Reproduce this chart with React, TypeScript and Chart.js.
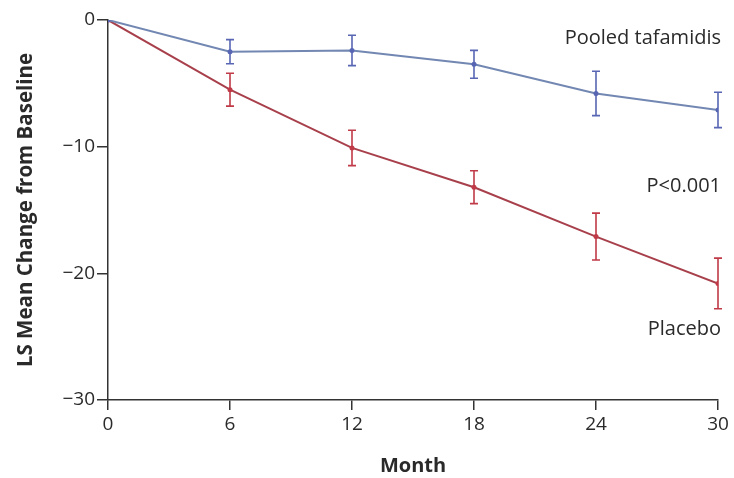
import React, { useEffect, useRef } from "react";
import { Chart, registerables } from "chart.js";

Chart.register(...registerables);

const months = [0, 6, 12, 18, 24, 30];
const tafamidis = [0, -2.5, -2.4, -3.5, -5.8, -7.1];
const tafamidisErr = [0, 0.95, 1.2, 1.1, 1.75, 1.4];
const placebo = [0, -5.5, -10.1, -13.2, -17.1, -20.8];
const placeboErr = [0, 1.3, 1.4, 1.3, 1.85, 2.0];
const xTicks = [0, 6, 12, 18, 24, 30];
const yTicks = [0, -10, -20, -30];

const labels = [
  { text: "Pooled tafamidis", x: 30, y: -1.45 },
  { text: "P<0.001", x: 30, y: -13.1 },
  { text: "Placebo", x: 30, y: -24.4 },
];

const FONT = "'Open Sans', 'Noto Sans', sans-serif";
const BLUE_LINE = "#7287b2";
const BLUE_ERR = "#5866b4";
const RED_LINE = "#a8404c";
const RED_ERR = "#c03a48";
const TEXT = "#2a2a2a";

const errorBarPlugin = {
  id: "errorBars",
  afterDatasetsDraw(chart: any) {
    const { ctx, scales } = chart;
    const xs = scales.x;
    const ys = scales.y;
    const sets = [
      { vals: tafamidis, errs: tafamidisErr, color: BLUE_ERR },
      { vals: placebo, errs: placeboErr, color: RED_ERR },
    ];
    ctx.save();
    ctx.lineWidth = 1.6;
    sets.forEach((s) => {
      ctx.strokeStyle = s.color;
      months.forEach((m, i) => {
        if (!s.errs[i]) return;
        const px = xs.getPixelForValue(m);
        const top = ys.getPixelForValue(s.vals[i] + s.errs[i]);
        const bot = ys.getPixelForValue(s.vals[i] - s.errs[i]);
        ctx.beginPath();
        ctx.moveTo(px, top);
        ctx.lineTo(px, bot);
        ctx.moveTo(px - 4, top);
        ctx.lineTo(px + 4, top);
        ctx.moveTo(px - 4, bot);
        ctx.lineTo(px + 4, bot);
        ctx.stroke();
      });
    });
    ctx.restore();
  },
  afterDraw(chart: any) {
    const { ctx, scales } = chart;
    ctx.save();
    ctx.font = `20px ${FONT}`;
    ctx.fillStyle = TEXT;
    ctx.textAlign = "right";
    ctx.textBaseline = "middle";
    labels.forEach((l) => {
      ctx.fillText(l.text, scales.x.getPixelForValue(l.x) + 3, scales.y.getPixelForValue(l.y));
    });
    ctx.restore();
  },
};

export default function App() {
  const ref = useRef<HTMLCanvasElement>(null);
  useEffect(() => {
    if (!ref.current) return;
    const chart = new Chart(ref.current, {
      type: "line",
      data: {
        datasets: [
          {
            label: "Pooled tafamidis",
            data: months.map((m, i) => ({ x: m, y: tafamidis[i] })),
            borderColor: BLUE_LINE,
            backgroundColor: BLUE_ERR,
            borderWidth: 2,
            pointRadius: 2.5,
            pointBorderWidth: 0,
            tension: 0,
          },
          {
            label: "Placebo",
            data: months.map((m, i) => ({ x: m, y: placebo[i] })),
            borderColor: RED_LINE,
            backgroundColor: RED_ERR,
            borderWidth: 2,
            pointRadius: 2.5,
            pointBorderWidth: 0,
            tension: 0,
          },
        ],
      },
      options: {
        responsive: false,
        animation: false,
        layout: { padding: { left: 0, top: 20, right: 16, bottom: 0 } },
        plugins: { legend: { display: false }, tooltip: { enabled: false } },
        scales: {
          x: {
            type: "linear",
            min: 0,
            max: 30,
            afterFit(scale: any) {
              scale.height = 78;
            },
            afterBuildTicks(scale: any) {
              scale.ticks = xTicks.map((v) => ({ value: v }));
            },
            grid: { drawOnChartArea: false, drawTicks: true, tickLength: 10, color: "#333", lineWidth: 1.5 },
            border: { display: true, color: "#333", width: 1.5 },
            ticks: { color: TEXT, font: { family: FONT, size: 19 }, padding: 3, maxRotation: 0 },
            title: {
              display: true,
              text: "Month",
              color: TEXT,
              font: { family: FONT, size: 20, weight: "bold" },
              padding: { top: 0, bottom: 0 },
            },
          },
          y: {
            type: "linear",
            min: -30,
            max: 0,
            afterFit(scale: any) {
              scale.width = 108;
            },
            afterBuildTicks(scale: any) {
              scale.ticks = yTicks.map((v) => ({ value: v }));
            },
            grid: { drawOnChartArea: false, drawTicks: true, tickLength: 11, color: "#333", lineWidth: 1.5 },
            border: { display: true, color: "#333", width: 1.5 },
            ticks: {
              color: TEXT,
              font: { family: FONT, size: 19 },
              padding: 2,
              callback: (v: any) => String(v).replace("-", "\u2212"),
            },
            title: {
              display: true,
              text: "LS Mean Change from Baseline",
              color: TEXT,
              font: { family: FONT, size: 20.5, weight: "bold" },
              padding: { top: 14, bottom: 0 },
            },
          },
        },
      },
      plugins: [errorBarPlugin],
    });
    return () => chart.destroy();
  }, []);
  return (
    <div style={{ position: "fixed", left: 0, top: 0, width: 734, height: 478, background: "#fff" }}>
      <canvas ref={ref} width={734} height={478} />
    </div>
  );
}
